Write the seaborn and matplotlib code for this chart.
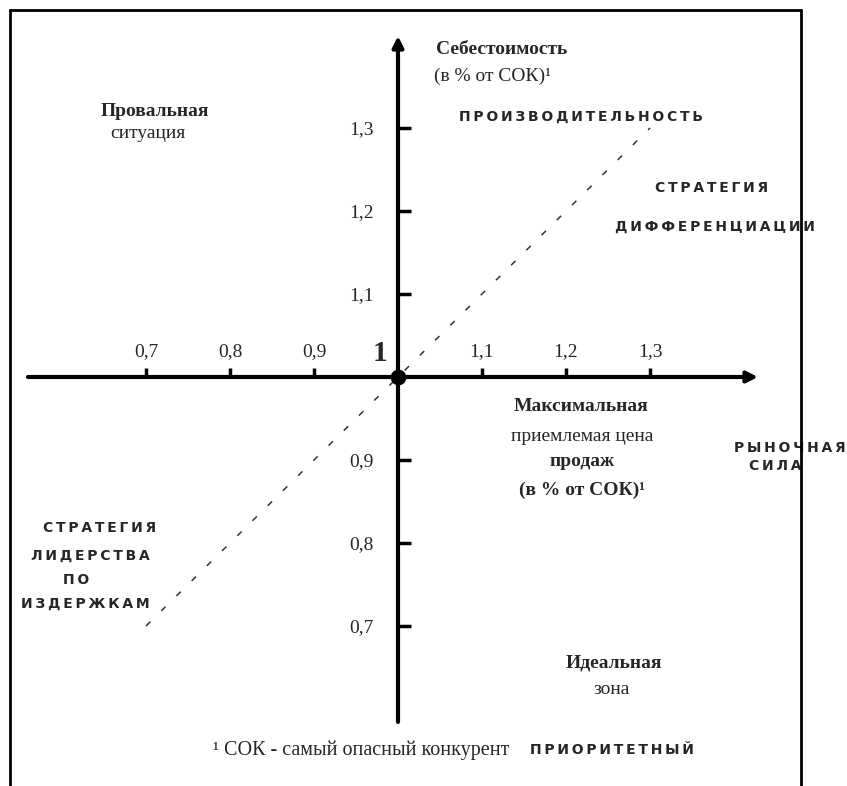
import matplotlib
matplotlib.use("Agg")
import matplotlib.pyplot as plt
from matplotlib.lines import Line2D
import seaborn as sns

# ---------------- data ----------------
x_ticks = [0.7, 0.8, 0.9, 1.1, 1.2, 1.3]
x_tick_labels = ["0,7", "0,8", "0,9", "1,1", "1,2", "1,3"]
y_ticks = [0.7, 0.8, 0.9, 1.1, 1.2, 1.3]
y_tick_labels = ["0,7", "0,8", "0,9", "1,1", "1,2", "1,3"]
diag_x = [0.7, 1.3]
diag_y = [0.7, 1.3]
origin_x = [1.0]
origin_y = [1.0]

# ---------------- setup ----------------
sns.set_theme(style="white")
plt.rcParams['font.family'] = ['Liberation Serif', 'DejaVu Serif']

W, H = 847, 786
fig = plt.figure(figsize=(W / 100, H / 100), dpi=100)
ax = fig.add_axes([0, 0, 1, 1])
OX, OY = 398, 377      # pixel position of the origin (1, 1)
SX, SY = 840, 830      # pixels per unit
ax.set_xlim(1 - OX / SX, 1 + (W - OX) / SX)
ax.set_ylim(1 - (H - OY) / SY, 1 + OY / SY)
ax.axis('off')


def P(px, py):
    return (1 + (px - OX) / SX, 1 + (OY - py) / SY)


# frame
for xs, ys in [([10, 10], [786, 10]), ([10, 801], [10, 10]), ([801, 801], [10, 786])]:
    fig.add_artist(Line2D([x / W for x in xs], [1 - y / H for y in ys],
                          transform=fig.transFigure, color='black', lw=2))

# axes with arrows
arrow = dict(arrowstyle='-|>', lw=3, color='black', mutation_scale=16,
             shrinkA=0, shrinkB=0)
ax.annotate('', xy=P(758, 377), xytext=P(28, 377), arrowprops=arrow)
ax.annotate('', xy=P(398, 36), xytext=P(398, 722), arrowprops=arrow)

# tick marks
ax.vlines(x_ticks, 1, 1 + 9 / SY, color='black', lw=2.5)
ax.hlines(y_ticks, 1, 1 + 13 / SX, color='black', lw=2.5)

# diagonal
sns.lineplot(x=diag_x, y=diag_y, ax=ax, color='#333333', lw=1.1,
             linestyle=(0, (4, 10)))

# origin
sns.scatterplot(x=origin_x, y=origin_y, ax=ax, s=110, color='black',
                edgecolor='black', zorder=5)

# tick labels
for x, lbl in zip(x_ticks, x_tick_labels):
    ax.annotate(lbl, (x, 1), xytext=(0, 25 * 0.72), textcoords='offset points',
                ha='center', va='center', fontsize=14)
for y, lbl in zip(y_ticks, y_tick_labels):
    ax.annotate(lbl, (1, y), xytext=(-24 * 0.72, -2 * 0.72), textcoords='offset points',
                ha='right', va='center', fontsize=14)

ax.text(*P(380, 354), "1", ha='center', va='center', fontsize=21,
        fontweight='bold')

# printed texts
def T(px, py, s, ha='center', size=14, weight='normal'):
    ax.text(*P(px, py), s, ha=ha, va='center', fontsize=size, fontweight=weight)

T(436, 50, "Себестоимость", ha='left', weight='bold')
T(434, 76, "(в % от СОК)¹", ha='left')
T(155, 112, "Провальная", weight='bold')
T(148, 134, "ситуация")
T(581, 407, "Максимальная", weight='bold')
T(582, 437, "приемлемая цена")
T(582, 462, "продаж", weight='bold')
T(582, 490, "(в % от СОК)¹", weight='bold')
T(614, 663, "Идеальная", weight='bold')
T(612, 690, "зона")
T(213, 750, "¹ СОК - самый опасный конкурент", ha='left', size=14.5)

# handwritten notes
def HW(px, py, s, ha='center'):
    ax.text(*P(px, py), "\u2009".join(s), ha=ha, va='center', fontsize=10,
            fontweight='bold', family=['DejaVu Sans'])

HW(581, 117, "ПРОИЗВОДИТЕЛЬНОСТЬ")
HW(712, 188, "СТРАТЕГИЯ")
HW(715, 227, "ДИФФЕРЕНЦИАЦИИ")
HW(790, 448, "РЫНОЧНАЯ")
HW(775, 466, "СИЛА")
HW(100, 528, "СТРАТЕГИЯ")
HW(90, 556, "ЛИДЕРСТВА")
HW(76, 580, "ПО")
HW(85, 604, "ИЗДЕРЖКАМ")
HW(612, 750, "ПРИОРИТЕТНЫЙ")

fig.savefig("out.png", dpi=100)
